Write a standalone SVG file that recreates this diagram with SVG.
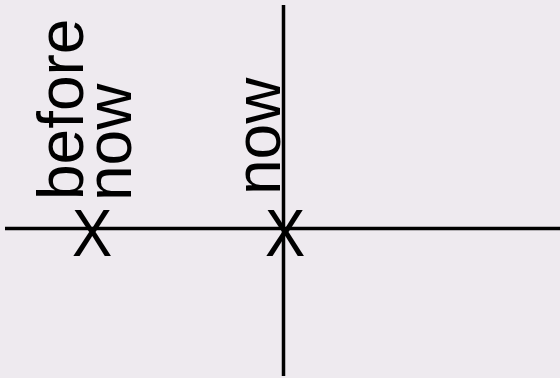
<svg xmlns="http://www.w3.org/2000/svg" width="560" height="378" viewBox="0 0 560 378">
<style>
.bg{fill:#eeeaef}
.ax{stroke:#000;stroke-width:3.5;fill:none}
.t{font-family:"Liberation Sans",Arial,sans-serif;font-size:64px;fill:#000}
.m{font-family:"Liberation Sans",Arial,sans-serif;font-size:67px;fill:#000;text-anchor:middle}
</style>
<rect class="bg" x="0" y="0" width="560" height="378"/>
<g id="connectors">
<line class="ax" x1="5" y1="228.5" x2="560" y2="228.5"/>
<line class="ax" x1="283.5" y1="5" x2="283.5" y2="376"/>
</g>
<g id="before-now">
<text class="m" transform="translate(92,256) scale(0.9,1)">X</text>
<text class="t" transform="translate(83,200) rotate(-90)">before</text>
<text class="t" transform="translate(131,201) rotate(-90)">now</text>
</g>
<g id="now">
<text class="m" transform="translate(285,256) scale(0.9,1)">X</text>
<text class="t" transform="translate(280,195) rotate(-90)">now</text>
</g>
</svg>
